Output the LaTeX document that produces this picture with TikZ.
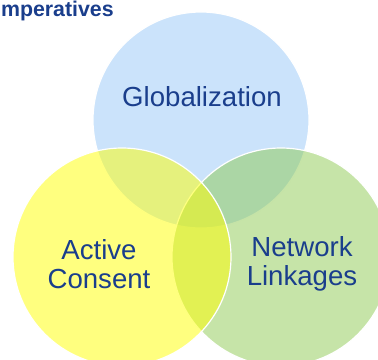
\documentclass[tikz,border=0pt]{standalone}
\usepackage{fontspec}
\setmainfont{Liberation Sans}
\definecolor{textblue}{RGB}{26,62,140}
\definecolor{globblue}{RGB}{151,199,247}
\definecolor{netgreen}{RGB}{141,201,81}
\definecolor{consyellow}{RGB}{255,255,0}
\tikzset{
  venn/.style={fill opacity=0.5, draw=white, line width=0.9pt},
  vennlabel/.style={text=textblue, align=center, inner sep=0pt,
    font=\fontsize{20.7}{21.8}\selectfont}
}

\begin{document}
\begin{tikzpicture}[x=0.75pt,y=-0.75pt]
\useasboundingbox (0,0) rectangle (378,360);

\filldraw[venn, fill=globblue] (201,120) circle (108);
\filldraw[venn, fill=netgreen] (281,257) circle (109);
\filldraw[venn, fill=consyellow] (122,257) circle (109);

\node[anchor=base east, inner sep=0pt, text=textblue, font=\fontsize{16}{18}\selectfont\bfseries] (title) at (114,17) {mperatives};

\node[vennlabel] (glob) at (202,97) {Globalization};
\node[vennlabel] (cons) at (99,264) {Active\\Consent};
\node[vennlabel] (net) at (302,264) {Network\\Linkages};
\end{tikzpicture}
\end{document}
